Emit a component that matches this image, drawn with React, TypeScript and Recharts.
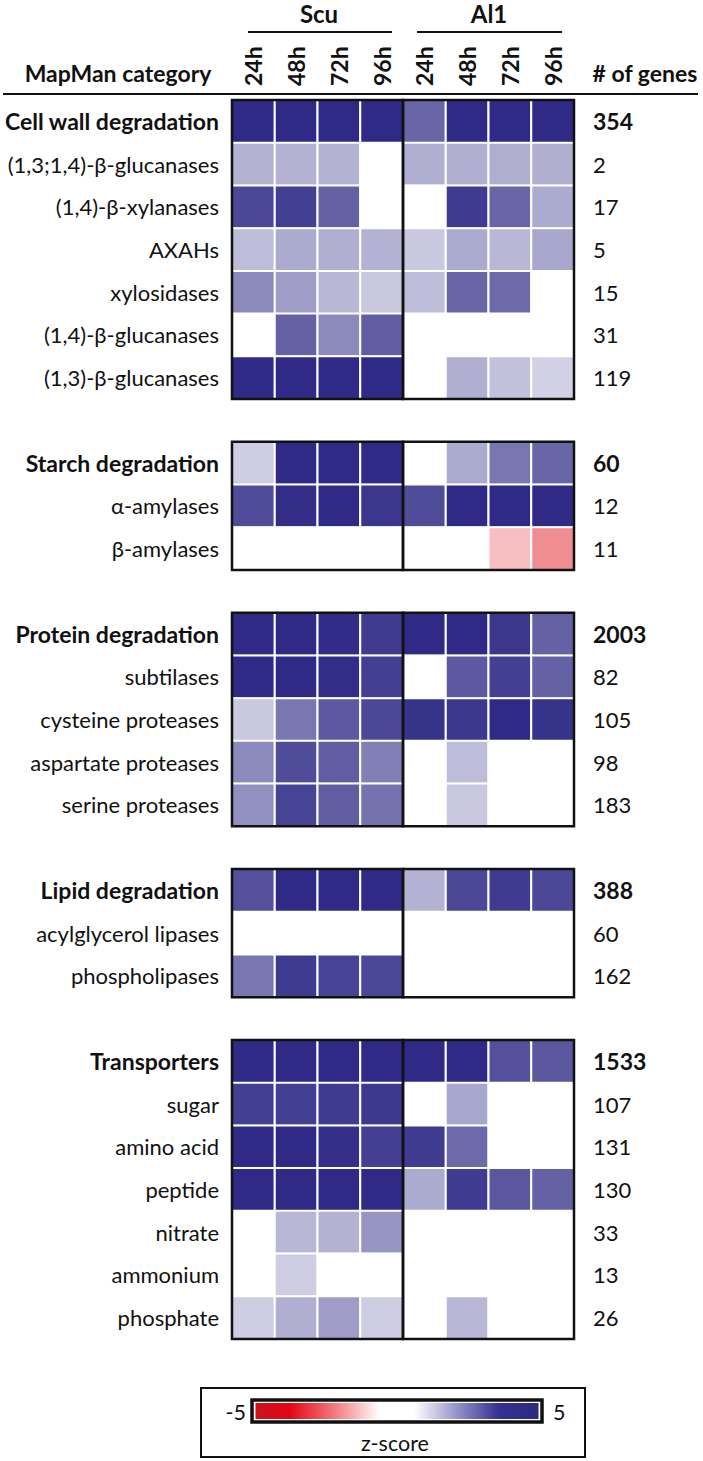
import React from 'react';
import { BarChart, Bar, XAxis, YAxis, Cell, ReferenceArea } from 'recharts';

// ---- data ----
const rowLabels = [
  'Cell wall degradation', '(1,3;1,4)-β-glucanases', '(1,4)-β-xylanases', 'AXAHs', 'xylosidases', '(1,4)-β-glucanases', '(1,3)-β-glucanases',
  'Starch degradation', 'α-amylases', 'β-amylases',
  'Protein degradation', 'subtilases', 'cysteine proteases', 'aspartate proteases', 'serine proteases',
  'Lipid degradation', 'acylglycerol lipases', 'phospholipases',
  'Transporters', 'sugar', 'amino acid', 'peptide', 'nitrate', 'ammonium', 'phosphate',
];
const geneCounts = [354, 2, 17, 5, 15, 31, 119, 60, 12, 11, 2003, 82, 105, 98, 183, 388, 60, 162, 1533, 107, 131, 130, 33, 13, 26];
const headerRows = ['Cell wall degradation', 'Starch degradation', 'Protein degradation', 'Lipid degradation', 'Transporters'];
const groupSizes = [7, 3, 5, 3, 7];

const strains = ['Scu', 'Al1'];
const timepoints = ['24h', '48h', '72h', '96h'];

// z-scores per column (one value per row, null = not significant)
const scu24h = [5, 1.8, 4.3, 1.55, 2.75, null, 5, 1.2, 4.2, null, 5, 5, 1.3, 2.75, 2.6, 4.1, null, 3.2, 5, 4.5, 5, 5, null, null, 1.2];
const scu48h = [5, 1.8, 4.5, 2.0, 2.3, 3.7, 5, 5, 4.9, null, 5, 5, 3.2, 4.2, 4.4, 5, null, 4.6, 5, 4.5, 5, 5, 1.7, 1.2, 1.9];
const scu72h = [5, 1.8, 3.7, 1.9, 1.7, 2.75, 5, 5, 5, null, 4.95, 4.9, 3.9, 3.8, 3.8, 5, null, 4.4, 5, 4.6, 4.85, 5, 1.8, null, 2.3];
const scu96h = [5, null, null, 1.8, 1.3, 3.8, 5, 5, 4.7, null, 4.6, 4.5, 4.3, 3.0, 3.3, 5, null, 4.3, 5, 4.65, 4.5, 5, 2.5, null, 1.2];
const al124h = [3.6, 1.9, null, 1.3, 1.55, null, null, null, 4.2, null, 5, null, 4.8, null, null, 1.8, null, null, 5, null, 4.6, 2.0, null, null, null];
const al148h = [5, 1.9, 4.6, 2.0, 3.6, null, 1.9, 2.0, 5, null, 5, 3.9, 4.7, 1.55, 1.3, 4.3, null, null, 5, 2.1, 3.5, 4.6, null, null, 1.7];
const al172h = [5, 1.9, 3.6, 1.7, 3.5, null, 1.45, 3.2, 5, -1.36, 4.7, 4.5, 5, null, null, 4.6, null, null, 4.1, null, null, 3.95, null, null, null];
const al196h = [5, 1.9, 2.0, 2.1, null, null, 1.1, 3.6, 5, -2.4, 3.7, 3.7, 4.8, null, null, 4.3, null, null, 3.95, null, null, 3.7, null, null, null];
const columns = [scu24h, scu48h, scu72h, scu96h, al124h, al148h, al172h, al196h];

const legendTicks = [-5, 5];

// ---- helpers ----
const NAVY = [46, 42, 134];
const RED = [224, 18, 28];
function zColor(z: number | null): string {
  if (z === null || z === undefined) return '#ffffff';
  const t = Math.min(Math.abs(z) / 5, 1);
  const c = z >= 0 ? NAVY : RED;
  const mix = (k: number) => Math.round(255 - t * (255 - c[k]));
  return `rgb(${mix(0)},${mix(1)},${mix(2)})`;
}

// build table (gap rows between groups)
type Row = { key: string; label: string; count: string; bold: boolean; z: (number | null)[]; [k: string]: any };
const table: Row[] = [];
const groupBounds: { first: string; last: string }[] = [];
{
  let idx = 0;
  groupSizes.forEach((size, g) => {
    if (g > 0) {
      const gap: Row = { key: `gap${g}`, label: '', count: '', bold: false, z: [] };
      columns.forEach((_, c) => (gap[`c${c}`] = null));
      table.push(gap);
    }
    const first = `r${idx}`;
    for (let i = 0; i < size; i++, idx++) {
      const row: Row = {
        key: `r${idx}`,
        label: rowLabels[idx],
        count: String(geneCounts[idx]),
        bold: headerRows.includes(rowLabels[idx]),
        z: columns.map((col) => col[idx]),
      };
      columns.forEach((_, c) => (row[`c${c}`] = 1));
      table.push(row);
    }
    groupBounds.push({ first, last: `r${idx - 1}` });
  });
}
const rowByKey: Record<string, Row> = {};
table.forEach((r) => (rowByKey[r.key] = r));

const colLabels = strains.flatMap(() => timepoints);
const colTicks = colLabels.map((_, i) => i + 0.5);

const FONT = 'Lato, "Open Sans", sans-serif';
const INK = '#111111';

const LeftTick = (props: any) => {
  const { x, y, payload } = props;
  const r = rowByKey[payload.value];
  if (!r || !r.label) return null;
  return (
    <text x={x} y={y} textAnchor="end" dominantBaseline="central" fontFamily={FONT} fontSize={r.bold ? 23 : 22} fontWeight={r.bold ? 700 : 400} fill={INK}>
      {r.label}
    </text>
  );
};
const RightTick = (props: any) => {
  const { x, y, payload } = props;
  const r = rowByKey[payload.value];
  if (!r || !r.count) return null;
  return (
    <text x={x} y={y} textAnchor="start" dominantBaseline="central" fontFamily={FONT} fontSize={r.bold ? 23 : 22} fontWeight={r.bold ? 700 : 400} fill={INK}>
      {r.count}
    </text>
  );
};
const TopTick = (props: any) => {
  const { x, y, payload } = props;
  const i = Math.floor(payload.value);
  return (
    <text x={x} y={y} transform={`rotate(-90 ${x} ${y})`} textAnchor="start" dominantBaseline="central" fontFamily={FONT} fontSize={23} fontWeight={700} fill={INK}>
      {colLabels[i]}
    </text>
  );
};

export default function App() {
  return (
    <div style={{ position: 'absolute', left: 0, top: 0, width: 703, height: 1461, background: '#fff' }}>
      <BarChart
        width={703}
        height={1461}
        data={table}
        layout="vertical"
        barCategoryGap={0}
        barGap={0}
        margin={{ top: 0, right: 0, bottom: 122, left: 0 }}
      >
        <XAxis
          type="number"
          orientation="top"
          domain={[0, 8]}
          ticks={colTicks}
          interval={0}
          height={100}
          axisLine={false}
          tickLine={false}
          tickSize={0}
          tickMargin={14}
          tick={<TopTick />}
        />
        <YAxis
          yAxisId="rows"
          type="category"
          dataKey="key"
          width={232}
          interval={0}
          axisLine={false}
          tickLine={false}
          tickSize={0}
          tickMargin={13}
          tick={<LeftTick />}
        />
        <YAxis
          yAxisId="counts"
          type="category"
          dataKey="key"
          orientation="right"
          width={129}
          interval={0}
          axisLine={false}
          tickLine={false}
          tickSize={0}
          tickMargin={19}
          tick={<RightTick />}
        />
        {columns.map((_, c) => (
          <Bar
            key={c}
            yAxisId="rows"
            dataKey={`c${c}`}
            stackId="heat"
            stroke="#ffffff"
            strokeWidth={2}
            isAnimationActive={false}
          >
            {table.map((r, i) => (
              <Cell key={i} fill={r.z.length ? zColor(r.z[c]) : 'none'} stroke={r.z.length ? '#ffffff' : 'none'} />
            ))}
          </Bar>
        ))}
        {groupBounds.map((g, i) => (
          <ReferenceArea
            key={`L${i}`}
            yAxisId="rows"
            x1={0}
            x2={4}
            y1={g.first}
            y2={g.last}
            fill="none"
            fillOpacity={0}
            stroke={INK}
            strokeWidth={2.5}
            ifOverflow="visible"
            zIndex={2000}
          />
        ))}
        {groupBounds.map((g, i) => (
          <ReferenceArea
            key={`R${i}`}
            yAxisId="rows"
            x1={4}
            x2={8}
            y1={g.first}
            y2={g.last}
            fill="none"
            fillOpacity={0}
            stroke={INK}
            strokeWidth={2.5}
            ifOverflow="visible"
            zIndex={2000}
          />
        ))}
      </BarChart>
      <svg width={703} height={1461} style={{ position: 'absolute', left: 0, top: 0, pointerEvents: 'none' }}>
        <defs>
          <linearGradient id="zgrad" x1="0" x2="1" y1="0" y2="0">
            <stop offset="0" stopColor="#c8141e" />
            <stop offset="0.12" stopColor="#e30613" />
            <stop offset="0.28" stopColor="#f27a80" />
            <stop offset="0.44" stopColor="#ffffff" />
            <stop offset="0.56" stopColor="#ffffff" />
            <stop offset="0.72" stopColor="#8f8cc6" />
            <stop offset="0.86" stopColor="#343190" />
            <stop offset="1" stopColor="#2b2a80" />
          </linearGradient>
        </defs>
        <text x={319} y={23} textAnchor="middle" fontFamily={FONT} fontSize={24} fontWeight={700} fill={INK}>{strains[0]}</text>
        <text x={489} y={23} textAnchor="middle" fontFamily={FONT} fontSize={24} fontWeight={700} fill={INK}>{strains[1]}</text>
        <line x1={248} x2={392} y1={32} y2={32} stroke={INK} strokeWidth={2.2} />
        <line x1={417} x2={562} y1={32} y2={32} stroke={INK} strokeWidth={2.2} />
        <text x={118} y={82} textAnchor="middle" fontFamily={FONT} fontSize={23} fontWeight={700} fill={INK}>MapMan category</text>
        <text x={645} y={82} textAnchor="middle" fontFamily={FONT} fontSize={23} fontWeight={700} fill={INK}># of genes</text>
        <line x1={3} x2={698} y1={94} y2={94} stroke={INK} strokeWidth={2} />
        <rect x={201} y={1388} width={384} height={69} fill="none" stroke={INK} strokeWidth={2} />
        <rect x={252} y={1400} width={290} height={22} fill="#fff" stroke={INK} strokeWidth={3.5} />
        <rect x={255.5} y={1403} width={283} height={16} fill="url(#zgrad)" />
        <text x={246} y={1412} textAnchor="end" dominantBaseline="central" fontFamily={FONT} fontSize={21.5} fill={INK}>{legendTicks[0]}</text>
        <text x={553} y={1412} textAnchor="start" dominantBaseline="central" fontFamily={FONT} fontSize={21.5} fill={INK}>{legendTicks[1]}</text>
        <text x={395} y={1443} textAnchor="middle" dominantBaseline="central" fontFamily={FONT} fontSize={21.5} fill={INK}>z-score</text>
      </svg>
    </div>
  );
}
